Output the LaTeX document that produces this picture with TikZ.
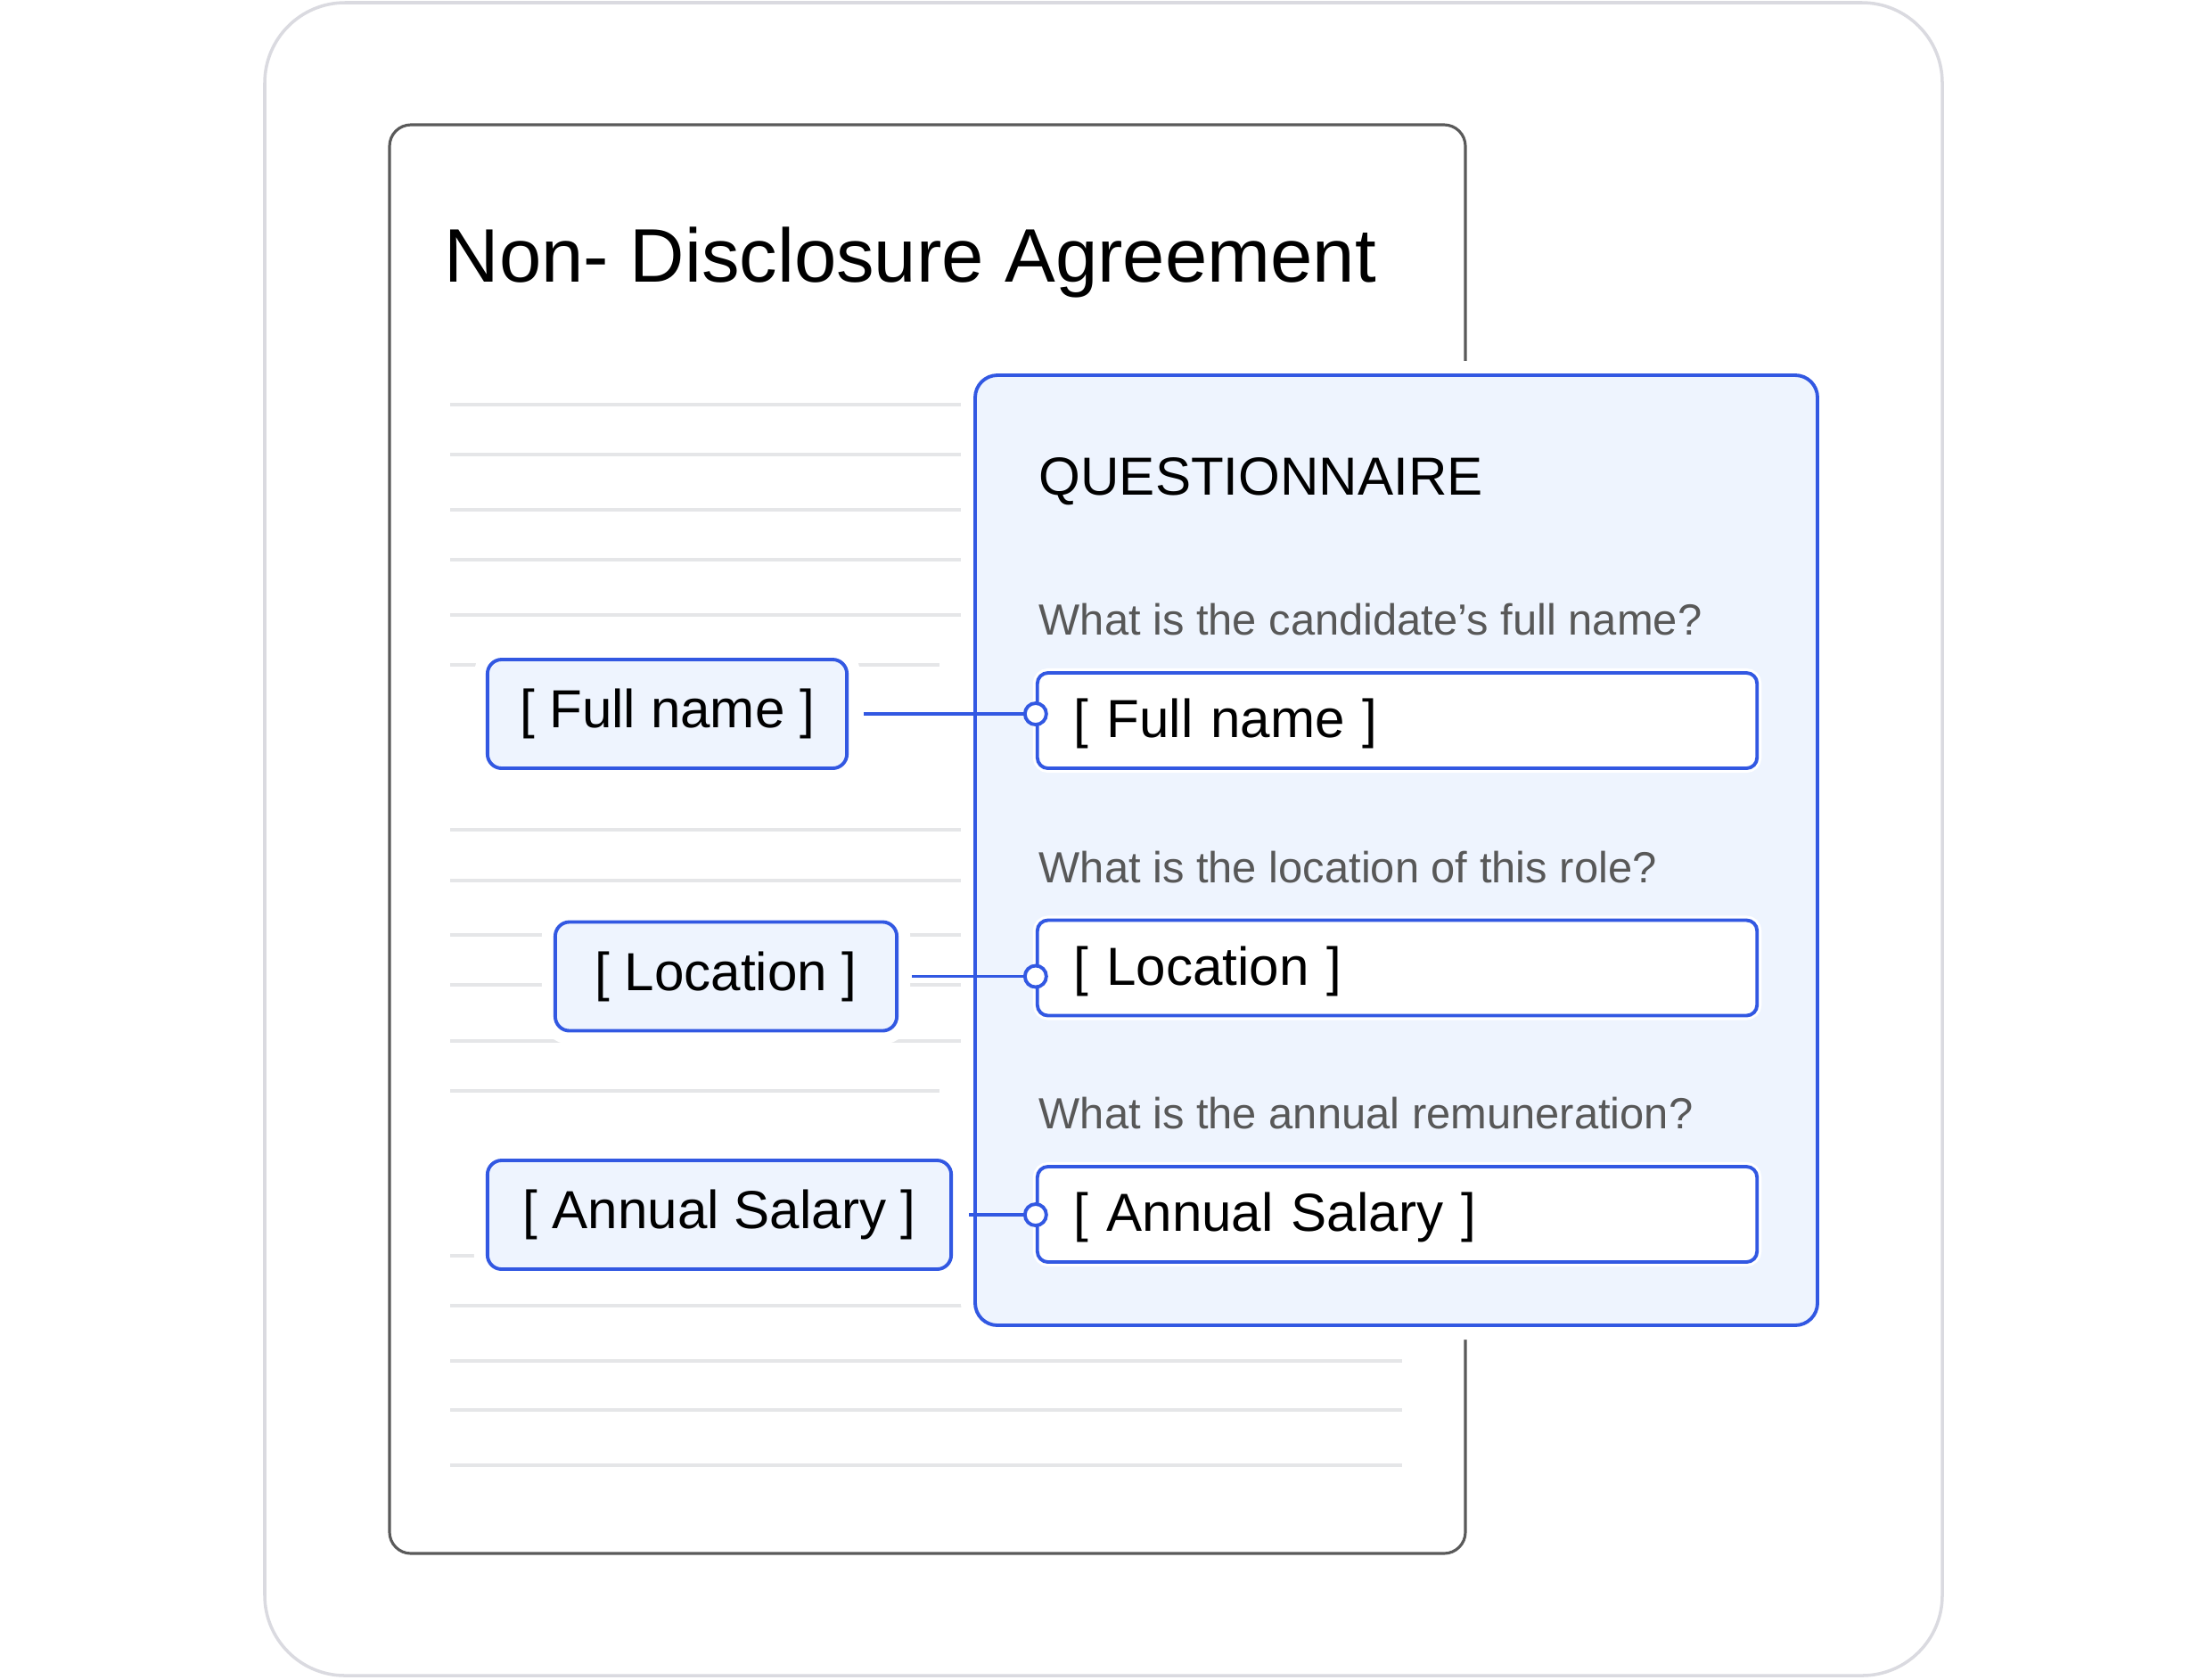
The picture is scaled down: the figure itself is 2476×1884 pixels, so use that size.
\documentclass[tikz,border=0pt]{standalone}
\usepackage{fontspec}
\setmainfont{Liberation Sans}
\usepackage{tikz}
\definecolor{formblue}{RGB}{50,88,226}
\definecolor{formfill}{RGB}{238,244,254}
\definecolor{ruleline}{RGB}{229,230,232}
\definecolor{pageedge}{RGB}{90,90,90}
\definecolor{frameedge}{RGB}{218,218,224}
\definecolor{asktext}{RGB}{88,88,88}

\begin{document}
\begin{tikzpicture}[x=0.01cm, y=-0.01cm,
    rule/.style={ruleline, line width=1.1pt},
    tag/.style={draw=formblue, fill=formfill, line width=1.1pt, rounded corners=1.6mm,
        minimum height=1.22cm, inner sep=0pt, font=\fontsize{17.1}{20}\selectfont,
        preaction={draw=white, line width=0.3cm}},
    field/.style={draw=formblue, fill=white, line width=1.1pt, rounded corners=1.2mm,
        minimum height=1.07cm, text width=7.25cm, inner xsep=0.41cm, inner ysep=0pt,
        text height=0.5cm, text depth=0.12cm,
        align=left, font=\fontsize{17.1}{20}\selectfont,
        preaction={draw=white, line width=0.1cm}},
    ask/.style={anchor=base west, inner sep=0pt, text=asktext, font=\fontsize{13.9}{16}\selectfont},
    knob/.style={circle, draw=formblue, fill=white, line width=1.1pt, minimum size=0.24cm, inner sep=0pt},
    link/.style={formblue, line width=1.1pt}]
    \useasboundingbox (0,0) rectangle (2476,1884);
    \fill[white] (0,0) rectangle (2476,1884);

    % outer card and document page
    \draw[frameedge, line width=1pt, rounded corners=9mm] (297,3) rectangle (2179,1880);
    \draw[pageedge, line width=0.9pt, rounded corners=2.4mm] (437,140) rectangle (1644,1743);
    \node[anchor=base west, inner sep=0pt, font=\fontsize{24.2}{29}\selectfont] (title) at (498,316) {Non- Disclosure Agreement};

    % body text of the page
    \foreach \y/\xe in {454/1573, 510/1573, 572/1573, 628/1573, 690/1573, 746/1054,
                        931/1573, 988/1573, 1049/1573, 1105/1573, 1168/1573, 1224/1054,
                        1409/1573, 1465/1573, 1527/1573, 1582/1573, 1644/1573}
        \draw[rule] (505,\y) -- (\xe,\y);

    % questionnaire panel
    \draw[draw=formblue, fill=formfill, line width=1.1pt, rounded corners=2.5mm,
        preaction={draw=white, line width=0.32cm}] (1094,421) rectangle (2039,1487);
    \node[anchor=base west, inner sep=0pt, font=\fontsize{17.1}{20}\selectfont] (qhead) at (1165,555) {QUESTIONNAIRE};

    \node[ask] (ask1) at (1165,712) {What is the candidate’s full name?};
    \node[field] (f1) at (1567.5,808.5) {[ Full name ]};
    \node[ask] (ask2) at (1165,990) {What is the location of this role?};
    \node[field] (f2) at (1567.5,1086) {[ Location ]};
    \node[ask] (ask3) at (1165,1266) {What is the annual remuneration?};
    \node[field] (f3) at (1567.5,1362.5) {[ Annual Salary ]};

    % placeholders in the page
    \node[tag, minimum width=4.03cm] (tag1) at (748.5,801) {[ Full name ]};
    \node[tag, minimum width=3.83cm] (tag2) at (814.5,1095.5) {[ Location ]};
    \node[tag, minimum width=5.2cm] (tag3) at (807,1363) {[ Annual Salary ]};

    % links
    \node[knob] (k1) at (tag1 -| f1.west) {};
    \node[knob] (k2) at (tag2 -| f2.west) {};
    \node[knob] (k3) at (tag3 -| f3.west) {};
    \draw[link] ([xshift=0.17cm]tag1.east) -- (k1);
    \draw[link] ([xshift=0.15cm]tag2.east) -- (k2);
    \draw[link] ([xshift=0.18cm]tag3.east) -- (k3);
\end{tikzpicture}
\end{document}
